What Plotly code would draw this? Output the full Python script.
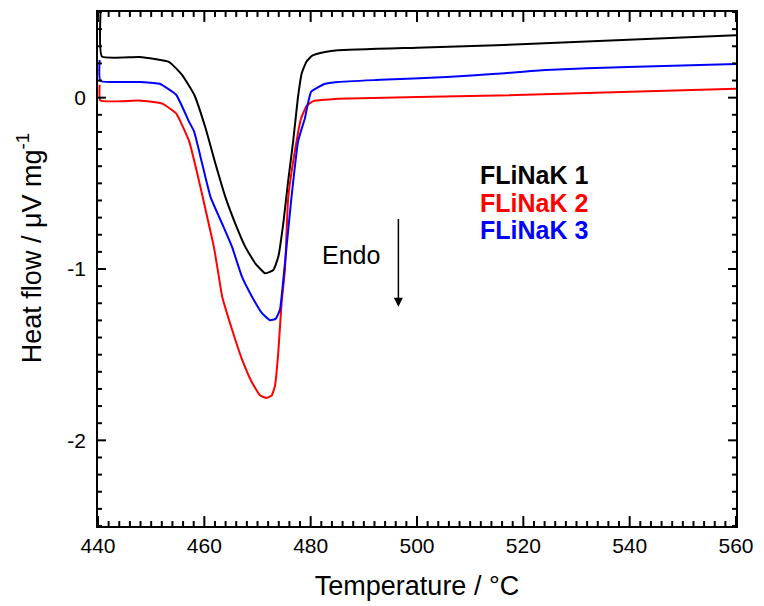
import plotly.graph_objects as go

# FLiNaK 1 (black)
t1 = [440.5, 440.75, 447.8, 453.4, 455.8, 458.1, 460.25, 462.12, 463.98, 465.84, 467.71, 469.57,
      471.43, 472.98, 473.91, 474.84, 475.77, 476.71, 477.6, 478.3, 479.2, 480.3, 482.7, 485.1,
      500.0, 514.9, 524.0, 560.0]
v1 = [0.52, 0.24, 0.237, 0.208, 0.133, 0.017, -0.18, -0.389, -0.582, -0.736, -0.871, -0.967,
      -1.025, -1.006, -0.929, -0.736, -0.486, -0.254, 0.0, 0.14, 0.21, 0.245, 0.266, 0.277,
      0.292, 0.306, 0.318, 0.364]

# FLiNaK 2 (red)
t2 = [440.3, 440.45, 447.8, 452.1, 454.7, 456.6, 457.14, 459.0, 460.55, 461.8, 462.73, 463.35,
      465.21, 467.07, 468.94, 470.5, 471.73, 472.67, 473.3, 473.91, 474.53, 475.16, 475.78, 477.03,
      478.2, 479.3, 480.5, 482.7, 485.1, 514.9, 560.0]
v2 = [0.075, -0.017, -0.017, -0.035, -0.092, -0.214, -0.254, -0.486, -0.698, -0.871, -1.045, -1.160,
      -1.353, -1.526, -1.661, -1.738, -1.753, -1.738, -1.680, -1.487, -1.198, -1.006, -0.582, -0.312,
      -0.121, -0.045, -0.02, -0.012, -0.006, 0.012, 0.052]

# FLiNaK 3 (blue)
t3 = [440.3, 440.45, 447.8, 451.6, 454.7, 457.1, 458.07, 459.62, 461.19, 463.35, 465.21, 467.07,
      468.94, 470.8, 472.37, 473.41, 474.23, 474.85, 476.39, 477.64, 478.9, 480.1, 482.7, 485.1,
      493.1, 505.6, 514.9, 524.2, 539.7, 560.0]
v3 = [0.22, 0.098, 0.092, 0.081, 0.017, -0.139, -0.197, -0.389, -0.582, -0.736, -0.871, -1.045,
      -1.160, -1.256, -1.299, -1.291, -1.237, -1.064, -0.582, -0.254, -0.121, 0.035, 0.081, 0.092,
      0.104, 0.121, 0.139, 0.162, 0.179, 0.197]

names = ["FLiNaK 1", "FLiNaK 2", "FLiNaK 3"]
colors = ["#000000", "#ff0000", "#0000ff"]
label_y = [-0.454, -0.616, -0.775]

x_range = [440, 560]
y_range = [-2.5, 0.5]
x_major = [440, 460, 480, 500, 520, 540, 560]
x_minor_step = 2
y_major = [-2, -1, 0]
y_ticktext = ["-2\u00a0", "-1\u00a0", "0\u00a0"]
y_minor_step = 0.1

FONT = "Liberation Sans, Arial, sans-serif"
W, H = 764, 606
ML, MR, MT, MB = 98, 22, 10, 78
PW, PH = W - ML - MR, H - MT - MB

fig = go.Figure()
for t, v, c, n in zip([t1, t2, t3], [v1, v2, v3], colors, names):
    fig.add_trace(go.Scatter(x=t, y=v, mode="lines", name=n,
                             line=dict(color=c, width=2, shape="spline", smoothing=0.4)))

# inside, mirrored tick marks built from the tick lists (lengths in pixels -> data units)
xspan = x_range[1] - x_range[0]
yspan = y_range[1] - y_range[0]
x_all = [x_range[0] + i * x_minor_step for i in range(int(xspan / x_minor_step) + 1)]
y_all = [round(y_range[0] + i * y_minor_step, 6) for i in range(int(round(yspan / y_minor_step)) + 1)]
tx, ty = [], []
for xv in x_all:
    dy = (10 if xv in x_major else 5) / PH * yspan
    tx += [xv, xv, None, xv, xv, None]
    ty += [y_range[0], y_range[0] + dy, None, y_range[1], y_range[1] - dy, None]
for yv in y_all:
    dx = (8 if any(abs(yv - m) < 1e-6 for m in y_major) else 4) / PW * xspan
    tx += [x_range[0], x_range[0] + dx, None, x_range[1], x_range[1] - dx, None]
    ty += [yv, yv, None, yv, yv, None]
fig.add_trace(go.Scatter(x=tx, y=ty, mode="lines", line=dict(color="black", width=2),
                         hoverinfo="skip", showlegend=False, connectgaps=False, cliponaxis=False))

for n, c, yy in zip(names, colors, label_y):
    fig.add_annotation(x=511.4, y=yy, xref="x", yref="y", text=f"<b>{n}</b>", showarrow=False,
                       xanchor="left", yanchor="middle", font=dict(family=FONT, size=25, color=c))

fig.add_annotation(x=481.7, y=-0.919, xref="x", yref="y", text="Endo", showarrow=False,
                   xanchor="left", yanchor="middle", font=dict(family=FONT, size=25, color="black"))

fig.add_annotation(x=496.5, y=-1.22, ax=496.5, ay=-0.70, xref="x", yref="y", axref="x", ayref="y",
                   text="", showarrow=True, arrowhead=2, arrowsize=1.2, arrowwidth=1.5, arrowcolor="black")

fig.add_annotation(x=-0.107, y=0.54, xref="paper", yref="paper", text="Heat flow / \u03bcV mg<sup>-1</sup>",
                   textangle=-90, showarrow=False, xanchor="center", yanchor="middle",
                   font=dict(family=FONT, size=27, color="black"))

fig.update_layout(
    width=W, height=H,
    margin=dict(l=ML, r=MR, t=MT, b=MB),
    paper_bgcolor="white", plot_bgcolor="white",
    showlegend=False,
    font=dict(family=FONT, size=21, color="black"),
)
fig.update_xaxes(
    range=x_range, tickvals=x_major, ticks="",
    showline=True, linewidth=2, linecolor="black", mirror=True, showgrid=False, zeroline=False,
    title=dict(text="Temperature / \u00b0C", font=dict(family=FONT, size=27), standoff=20),
)
fig.update_yaxes(
    range=y_range, tickvals=y_major, ticktext=y_ticktext, ticks="",
    showline=True, linewidth=2, linecolor="black", mirror=True, showgrid=False, zeroline=False,
)

fig.write_html("out.html")
